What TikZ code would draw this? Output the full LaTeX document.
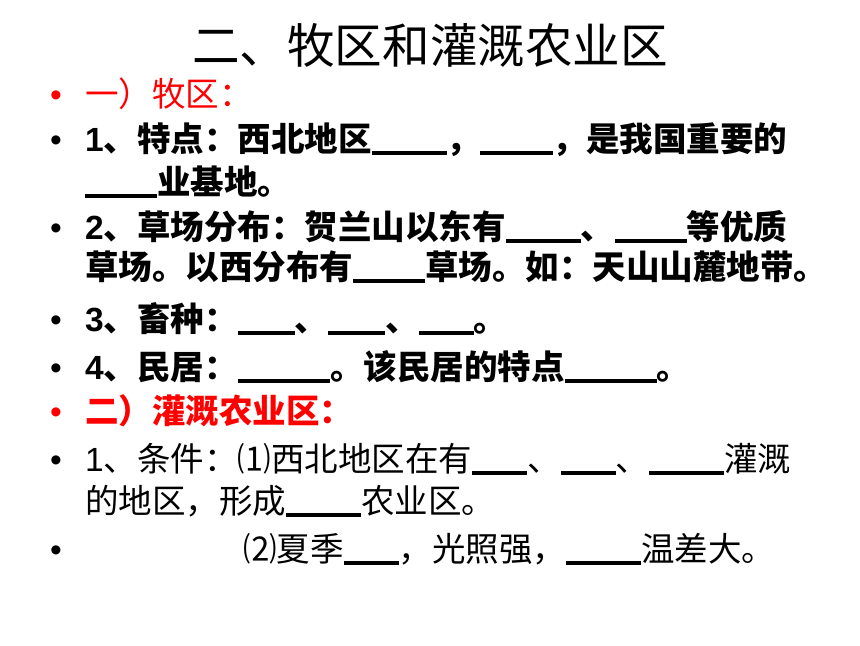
\documentclass[tikz,border=0pt]{standalone}
\usepackage{fontspec}
\usepackage{xcolor}
\newfontfamily\cjk{Noto Sans CJK SC}
\newfontfamily\arialfont{Liberation Sans}
\definecolor{slideRed}{RGB}{255, 0, 0}
\newcommand{\blank}[1]{\rule[-0.11em]{#1em}{0.1em}}

\begin{document}
\begin{tikzpicture}[x=0.3mm, y=-0.3mm]
        \tikzstyle{txt} = [anchor=base west, inner sep=0pt, font=\cjk\fontsize{28.6}{30}\selectfont]
        \tikzstyle{boldtxt} = [anchor=base west, inner sep=0pt, font=\cjk\bfseries\fontsize{28.6}{30}\selectfont]
        \tikzstyle{dot} = [anchor=base west, inner sep=0pt, font=\arialfont\fontsize{28.6}{30}\selectfont]
        \tikzstyle{headline} = [anchor=base, inner sep=0pt, font=\cjk\fontsize{40.6}{42}\selectfont]

        \fill[white] (0,0) rectangle (860,645);
        \useasboundingbox (0,0) rectangle (860,645);

        % Title
        \node[headline] (title) at (430,63) {二、牧区和灌溉农业区};

        % Pastoral area
        \node[dot, slideRed] (d1) at (50,106) {•};
        \node[txt, slideRed] (red1) at (85,106) {一）牧区：};
        \node[dot] (d2) at (50,151) {•};
        \node[boldtxt] (p1) at (85,151) {{\arialfont 1}、特点：西北地区\blank{2.24}，\blank{2.15}，是我国重要的};
        \node[boldtxt] (p1b) at (85,194) {\blank{2.15}业基地。};
        \node[dot] (d3) at (50,239) {•};
        \node[boldtxt] (p2) at (85,239) {{\arialfont 2}、草场分布：贺兰山以东有\blank{2.24}、\blank{2.15}等优质};
        \node[boldtxt] (p2b) at (85,279) {草场。以西分布有\blank{2.15}草场。如：天山山麓地带。};
        \node[dot] (d4) at (50,331) {•};
        \node[boldtxt] (p3) at (85,331) {{\arialfont 3}、畜种：\blank{1.7}、\blank{1.7}、\blank{1.64}。};
        \node[dot] (d5) at (50,379) {•};
        \node[boldtxt] (p4) at (85,379) {{\arialfont 4}、民居：\blank{2.75}。该民居的特点\blank{2.75}。};

        % Irrigated farming area
        \node[dot, slideRed] (d6) at (50,423) {•};
        \node[boldtxt, slideRed] (red2) at (85,423) {二）灌溉农业区：};
        \node[dot] (d7) at (50,471) {•};
        \node[txt] (c1) at (85,471) {{\arialfont 1}、条件：⑴西北地区在有\blank{1.64}、\blank{1.64}、\blank{2.24}灌溉};
        \node[txt] (c1b) at (85,513) {的地区，形成\blank{2.24}农业区。};
        \node[dot] (d8) at (50,561) {•};
        \node[txt] (c2) at (243,561) {⑵夏季\blank{1.64}，光照强，\blank{2.24}温差大。};
    \end{tikzpicture}
\end{document}
